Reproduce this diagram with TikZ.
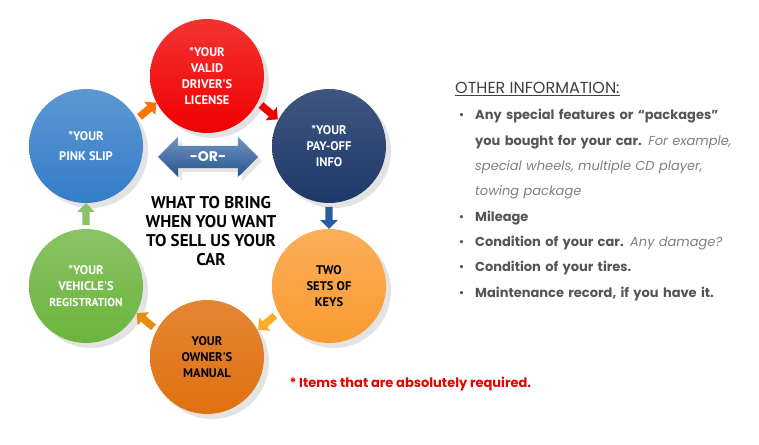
\documentclass[tikz,border=0pt]{standalone}
\usepackage{fontspec}
\setmainfont{Poppins}
\newfontfamily\ballfont{PT Sans}
\usetikzlibrary{shapes,shapes.arrows,shadows,positioning,calc}

\definecolor{licred}{RGB}{240,0,0}
\definecolor{slipblue}{RGB}{52,125,200}
\definecolor{paynavy}{RGB}{30,56,106}
\definecolor{keysorange}{RGB}{250,154,48}
\definecolor{manorange}{RGB}{224,112,16}
\definecolor{reggreen}{RGB}{108,180,62}
\definecolor{orblue}{RGB}{40,92,158}
\definecolor{infogray}{RGB}{85,85,85}
\definecolor{notered}{RGB}{235,0,0}

\begin{document}
\begin{tikzpicture}[x=1pt,y=1pt]
        \tikzstyle{ball}=[circle, minimum size=114pt, inner sep=0pt, align=center,
          font=\ballfont\bfseries\fontsize{12.5}{15.7}\selectfont, text=white,
          drop shadow={opacity=0.22, shadow xshift=5pt, shadow yshift=-5pt}]
        \tikzstyle{chev}=[single arrow, minimum height=22pt,
          single arrow head extend=5pt, inner sep=3.5pt]
        \tikzstyle{info}=[text width=300pt, align=left,
          font=\fontsize{13}{25.3}\selectfont, text=infogray]
        \useasboundingbox (0,0) rectangle (759,444);
        \fill[white] (0,0) rectangle (759,444);
        \begin{scope}
          \node [ball, top color=licred!80!white, bottom color=licred] (lic) at (207,368) {*YOUR\\VALID\\DRIVER'S\\LICENSE};
          \node [ball, top color=paynavy!85!white, bottom color=paynavy, on grid] (pay) [below right=70pt and 122pt of lic] {*YOUR\\PAY-OFF\\INFO};
          \node [ball, top color=keysorange!80!white, bottom color=keysorange, text=black, on grid] (keys) [below=140pt of pay] {TWO\\SETS OF\\KEYS};
          \node [ball, top color=manorange!85!white, bottom color=manorange, text=black, on grid] (man) [below left=71pt and 122pt of keys] {YOUR\\OWNER'S\\MANUAL};
          \node [ball, top color=reggreen!80!white, bottom color=reggreen, on grid] (reg) [above left=71pt and 121pt of man]
            {*YOUR\\VEHICLE'S\\{\fontsize{11.5}{14}\selectfont REGISTRATION}};
          \node [ball, top color=slipblue!80!white, bottom color=slipblue, on grid] (slip) [above=140pt of reg] {*YOUR\\[4pt]PINK SLIP};
        \end{scope}
        % small arrows round the ring
        \node [chev, fill=licred, rotate=-40] (a1) at ($(lic)!0.5!(pay)$) {};
        \node [chev, fill=orblue, rotate=-90] (a2) at ($(pay)!0.5!(keys)$) {};
        \node [chev, fill=keysorange!80!yellow, rotate=-140] (a3) at ($(keys)!0.5!(man)$) {};
        \node [chev, fill=manorange!80!yellow, rotate=140] (a4) at ($(man)!0.5!(reg)$) {};
        \node [chev, fill=reggreen!80!white, rotate=90] (a5) at ($(reg)!0.5!(slip)$) {};
        \node [chev, fill=orange!90!red, rotate=40] (a6) at ($(slip)!0.5!(lic)$) {};
        \node [double arrow, top color=orblue!65!white, bottom color=orblue!90!black, minimum height=100pt,
          double arrow head extend=9pt, inner ysep=6pt, text=white,
          font=\bfseries\fontsize{14}{14}\selectfont,
          drop shadow={opacity=0.2, shadow xshift=4pt, shadow yshift=-4pt}] (or) at (208,287) {-OR-};
        \node [align=center, font=\ballfont\bfseries\fontsize{17}{19}\selectfont] (bring) at (211,213)
          {WHAT TO BRING\\WHEN YOU WANT\\TO SELL US YOUR\\CAR};
        \node [anchor=base west, text=notered, font=\bfseries\fontsize{13}{15}\selectfont] (note) at (286,57)
          {* Items that are absolutely required.};
        % other information
        \node [anchor=base west, inner sep=0pt, text=black!75, font=\fontsize{16}{18}\selectfont] (head) at (455,350)
          {\underline{OTHER INFORMATION:}};
        \node [info, anchor=base west, inner sep=0pt] (list) at (455,324)
          {\leftskip=20pt
           \leavevmode\llap{\textbullet\hspace{11pt}}\textbf{Any special features or “packages”}\newline
           \textbf{you bought for your car.} {\color{gray}\textit{For example,}}\newline
           {\color{gray}\textit{special wheels, multiple CD player,}}\newline
           {\color{gray}\textit{towing package}}\par
           \leavevmode\llap{\textbullet\hspace{11pt}}\textbf{Mileage}\par
           \leavevmode\llap{\textbullet\hspace{11pt}}\textbf{Condition of your car.} {\color{gray}\textit{Any damage?}}\par
           \leavevmode\llap{\textbullet\hspace{11pt}}\textbf{Condition of your tires.}\par
           \leavevmode\llap{\textbullet\hspace{11pt}}\textbf{Maintenance record, if you have it.}\par};
\end{tikzpicture}
\end{document}
